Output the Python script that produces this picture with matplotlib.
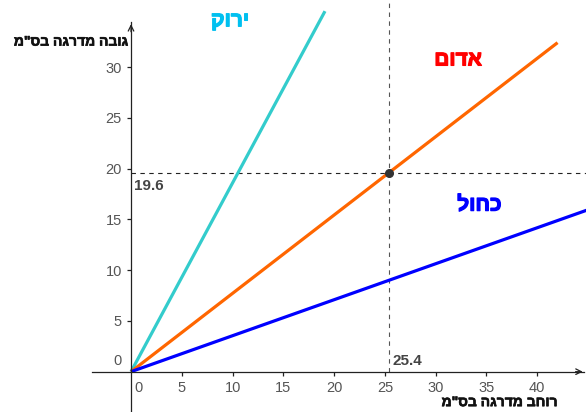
import matplotlib
matplotlib.use("Agg")
import matplotlib.pyplot as plt
import matplotlib.patheffects as pe

plt.rcParams["font.family"] = ["Liberation Sans", "DejaVu Sans"]


def rtl(s):
    # matplotlib has no bidi support: reverse Hebrew so it reads right-to-left
    return s[::-1]


def bold_fx(color, w):
    # Hebrew in the bold face falls back to regular, so thicken with a stroke
    return [pe.withStroke(linewidth=w, foreground=color)]


# line end points (cm)
green_x = [0, 19.1]
green_y = [0, 35.5]
orange_x = [0, 42.0]
orange_y = [0, 32.4]
blue_x = [0, 46.0]
blue_y = [0, 16.3]

# marked point
pt_x = 25.4
pt_y = 19.6

xticks = [5, 10, 15, 20, 25, 30, 35, 40]
yticks = [5, 10, 15, 20, 25, 30]

label_green = "ירוק"
label_red = "אדום"
label_blue = "כחול"
xlabel = 'רוחב מדרגה בס"מ'
ylabel = 'גובה מדרגה בס"מ'

fig = plt.figure(figsize=(5.86, 4.12), dpi=100)
ax = fig.add_axes([0, 0, 1, 1])
ax.set_xlim(-12.9, 44.8)
ax.set_ylim(-3.97, 36.6)

for s in ["top", "right"]:
    ax.spines[s].set_visible(False)
ax.spines["left"].set_position(("data", 0))
ax.spines["bottom"].set_position(("data", 0))
ax.spines["left"].set_bounds(-4, 34.4)
ax.spines["bottom"].set_bounds(-3.8, 44.6)
for s in ["left", "bottom"]:
    ax.spines[s].set_linewidth(0.9)
    ax.spines[s].set_color("#222222")

ax.annotate("", xy=(44.75, 0), xytext=(43.5, 0),
            arrowprops=dict(arrowstyle="->", lw=0.9, color="#222222"))
ax.annotate("", xy=(0, 34.5), xytext=(0, 33.2),
            arrowprops=dict(arrowstyle="->", lw=0.9, color="#222222"))

ax.set_xticks(xticks)
ax.set_yticks(yticks)
ax.tick_params(axis="both", direction="out", length=3, width=0.9,
               colors="#222222", labelcolor="#555555", labelsize=10.5)
ax.text(0.3, -0.9, "0", color="#555555", fontsize=10.5, ha="left", va="top")
ax.text(-0.9, 0.4, "0", color="#555555", fontsize=10.5, ha="right", va="bottom")

# guide lines through the point
ax.plot([0, 44.8], [pt_y, pt_y], color="#222222", lw=0.8, ls=(0, (4, 4)))
ax.plot([pt_x, pt_x], [0, 36.6], color="#555555", lw=0.8, ls=(0, (4, 4)))

ax.plot(green_x, green_y, color="#33cccc", lw=2.3, solid_capstyle="butt")
ax.plot(orange_x, orange_y, color="#ff6600", lw=2.3, solid_capstyle="butt")
ax.plot(blue_x, blue_y, color="#0000ff", lw=2.3, solid_capstyle="butt")
ax.plot([pt_x], [pt_y], "o", color="#333333", ms=5.5, zorder=5)

ax.text(0.25, 19.0, "19.6", color="#444444", fontsize=11, fontweight="bold",
        ha="left", va="top")
ax.text(25.75, 0.35, "25.4", color="#444444", fontsize=11, fontweight="bold",
        ha="left", va="bottom")

for txt, x, y, c in [(label_green, 9.75, 34.55, "#00c0f0"),
                     (label_red, 32.2, 30.7, "#ff0000"),
                     (label_blue, 34.3, 16.4, "#0000ff")]:
    ax.text(x, y, rtl(txt), color=c, fontsize=15, fontweight="bold",
            ha="center", va="center", path_effects=bold_fx(c, 0.9))

ax.text(-0.3, 32.5, rtl(ylabel), color="#111111", fontsize=10,
        fontweight="bold", ha="right", va="center",
        path_effects=bold_fx("#111111", 0.45))
ax.text(42.0, -3.0, rtl(xlabel), color="#111111", fontsize=10,
        fontweight="bold", ha="right", va="center",
        path_effects=bold_fx("#111111", 0.45))

fig.savefig("out.png", dpi=100)
